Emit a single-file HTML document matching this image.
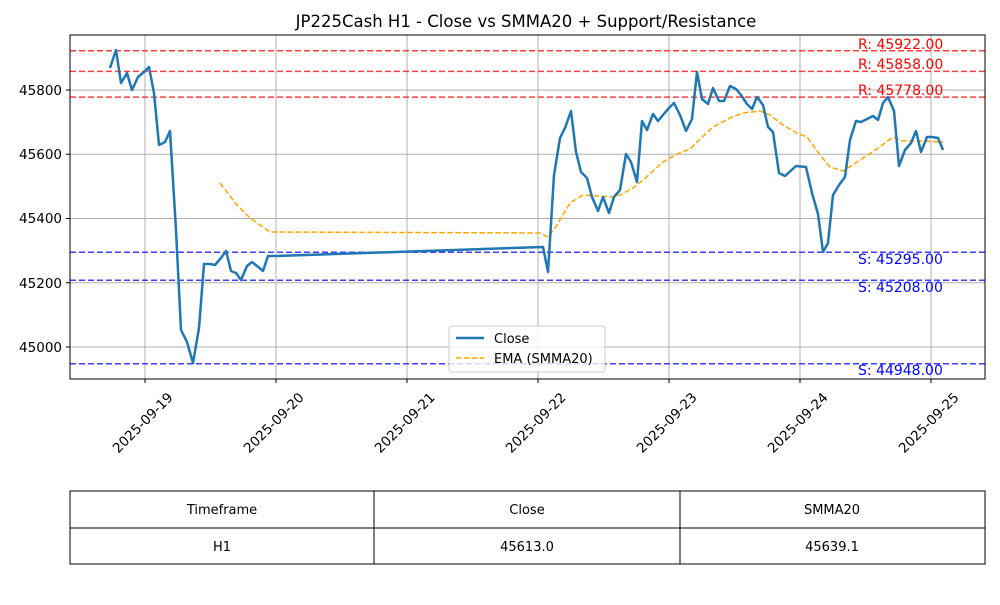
<!DOCTYPE html>
<html><head><meta charset="utf-8"><style>body{margin:0;background:#fff}svg text{font-family:"DejaVu Sans","Liberation Sans",sans-serif}</style></head><body>
<svg width="1000" height="600" xmlns="http://www.w3.org/2000/svg">
<text x="526" y="27" font-size="16.5" text-anchor="middle">JP225Cash H1 - Close vs SMMA20 + Support/Resistance</text>
<g stroke="#b0b0b0" stroke-width="1">
<line x1="145" y1="35" x2="145" y2="379"/><line x1="276" y1="35" x2="276" y2="379"/><line x1="407" y1="35" x2="407" y2="379"/><line x1="538" y1="35" x2="538" y2="379"/><line x1="669" y1="35" x2="669" y2="379"/><line x1="800" y1="35" x2="800" y2="379"/><line x1="931" y1="35" x2="931" y2="379"/>
<line x1="70" y1="347" x2="985" y2="347"/><line x1="70" y1="282.75" x2="985" y2="282.75"/><line x1="70" y1="218.5" x2="985" y2="218.5"/><line x1="70" y1="154.25" x2="985" y2="154.25"/><line x1="70" y1="90" x2="985" y2="90"/>
</g>
<g stroke-width="1.5" stroke-dasharray="6,3" opacity="0.75">
<line x1="70" y1="50.8" x2="985" y2="50.8" stroke="red"/><line x1="70" y1="71.4" x2="985" y2="71.4" stroke="red"/><line x1="70" y1="97.1" x2="985" y2="97.1" stroke="red"/>
<line x1="70" y1="252.2" x2="985" y2="252.2" stroke="blue"/><line x1="70" y1="280.2" x2="985" y2="280.2" stroke="blue"/><line x1="70" y1="363.7" x2="985" y2="363.7" stroke="blue"/>
</g>
<g font-size="14">
<text x="858" y="49" fill="red">R: 45922.00</text><text x="858" y="69" fill="red">R: 45858.00</text><text x="858" y="95" fill="red">R: 45778.00</text>
<text x="858" y="264" fill="blue">S: 45295.00</text><text x="858" y="292" fill="blue">S: 45208.00</text><text x="858" y="375" fill="blue">S: 44948.00</text>
</g>
<polyline fill="none" stroke="orange" stroke-width="1.5" stroke-dasharray="5.5,2.5" points="220,183 237,205 250,218 270,232 540,233 548,237 557,225 570,203 583,195 597,196 612,197 620,195 633,188 643,180 663,162 677,154 690,149 697,142 713,127 730,118 743,113 760,111 770,115 783,125 797,133 807,137 820,155 830,167 843,171 860,160 877,149 893,137 903,141 923,141 943,142"/>
<polyline fill="none" stroke="#1f77b4" stroke-width="2.5" stroke-linejoin="round" points="110,68 116,50 121,83 127,73 132,90 138,77 144,72 149,67 154,93 159,145 165,142 170,131 176,230 181,330 187,342 193,363 199,328 204,264 210,264 215,265 221,258 226,251 231,271 236,273 241,280 247,266 252,262 257,266 263,271 268,256 276,256 543,247 548,272 554,175 560,138 565,128 571,111 576,152 581,172 587,178 592,197 598,211 603,197 609,213 614,197 620,190 626,154 631,162 637,182 642,121 647,130 653,114 658,121 663,115 669,108 674,103 680,115 686,131 692,119 697,72 702,99 708,104 713,88 719,101 724,101 730,86 736,89 741,95 747,104 752,109 757,97 763,105 768,127 773,132 779,173 785,176 796,166 806,167 812,193 818,214 823,252 828,243 833,195 839,185 845,177 850,140 856,121 861,122 867,119 873,116 878,120 883,103 888,97 894,111 899,166 905,150 911,143 916,131 921,152 927,137 932,137 938,138 943,150"/>
<rect x="70" y="35" width="915" height="344" fill="none" stroke="#000" stroke-width="1"/>
<g stroke="#000"><line x1="70" y1="347" x2="66" y2="347"/><line x1="70" y1="282.75" x2="66" y2="282.75"/><line x1="70" y1="218.5" x2="66" y2="218.5"/><line x1="70" y1="154.25" x2="66" y2="154.25"/><line x1="70" y1="90" x2="66" y2="90"/>
<line x1="145" y1="379" x2="145" y2="383"/><line x1="276" y1="379" x2="276" y2="383"/><line x1="407" y1="379" x2="407" y2="383"/><line x1="538" y1="379" x2="538" y2="383"/><line x1="669" y1="379" x2="669" y2="383"/><line x1="800" y1="379" x2="800" y2="383"/><line x1="931" y1="379" x2="931" y2="383"/></g>
<g font-size="13.5" text-anchor="end">
<text x="62" y="352">45000</text><text x="62" y="288">45200</text><text x="62" y="223">45400</text><text x="62" y="159">45600</text><text x="62" y="95">45800</text>
</g>
<g font-size="13.5" text-anchor="middle">
<text transform="translate(146,426) rotate(-45)">2025-09-19</text><text transform="translate(277,426) rotate(-45)">2025-09-20</text><text transform="translate(408,426) rotate(-45)">2025-09-21</text><text transform="translate(539,426) rotate(-45)">2025-09-22</text><text transform="translate(670,426) rotate(-45)">2025-09-23</text><text transform="translate(801,426) rotate(-45)">2025-09-24</text><text transform="translate(932,426) rotate(-45)">2025-09-25</text>
</g>
<rect x="449" y="326" width="156" height="46" rx="3" fill="#fff" fill-opacity="0.8" stroke="#ccc"/>
<line x1="456" y1="338" x2="484" y2="338" stroke="#1f77b4" stroke-width="2.5"/>
<line x1="456" y1="358" x2="484" y2="358" stroke="orange" stroke-width="1.5" stroke-dasharray="5.5,2.5"/>
<text x="494" y="343" font-size="13">Close</text><text x="494" y="363" font-size="13">EMA (SMMA20)</text>
<g fill="none" stroke="#000" stroke-width="1"><rect x="70" y="491" width="915" height="73"/><line x1="70" y1="528" x2="985" y2="528"/><line x1="374" y1="491" x2="374" y2="564"/><line x1="680" y1="491" x2="680" y2="564"/></g>
<g font-size="13" text-anchor="middle">
<text x="222" y="514">Timeframe</text><text x="527" y="514">Close</text><text x="832" y="514">SMMA20</text>
<text x="222" y="551">H1</text><text x="527" y="551">45613.0</text><text x="832" y="551">45639.1</text>
</g>
</svg>
</body></html>
